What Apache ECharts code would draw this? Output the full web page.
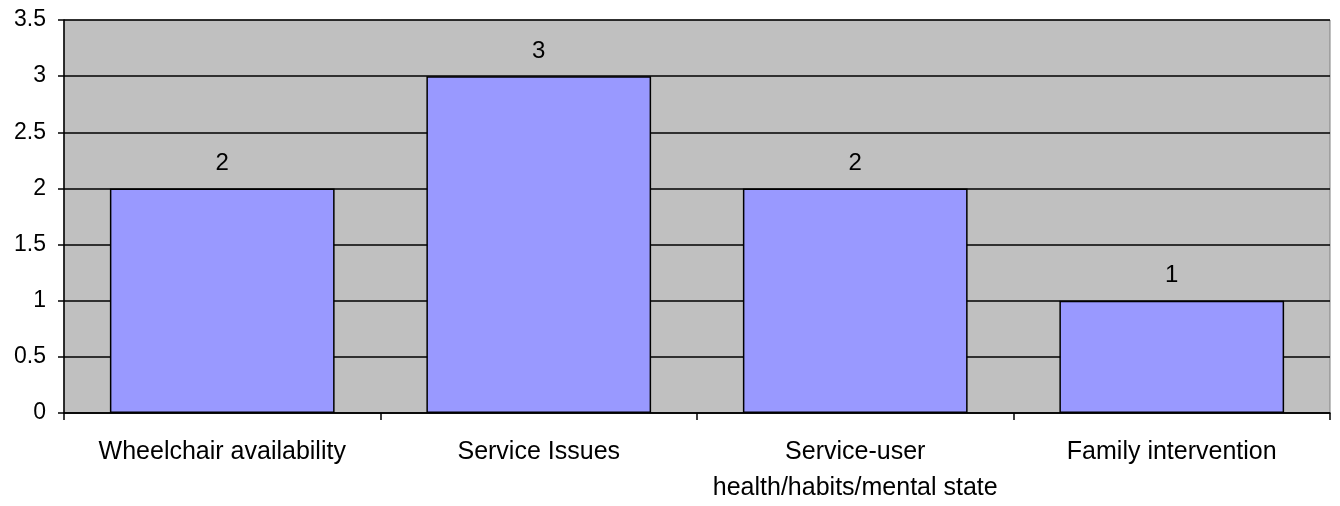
<!DOCTYPE html>
<html>
<head>
<meta charset="utf-8">
<script src="https://cdn.jsdelivr.net/npm/echarts@6/dist/echarts.min.js"></script>
<style>html,body{margin:0;padding:0;background:#fff;overflow:hidden}#c{width:1340px;height:506px}</style>
</head>
<body>
<div id="c"></div>
<script>
const categories = ["Wheelchair availability", "Service Issues", "Service-user\nhealth/habits/mental state", "Family intervention"];
const values = [2, 3, 2, 1];
const yTicks = { min: 0, max: 3.5, interval: 0.5 };

const chart = echarts.init(document.getElementById('c'));
chart.setOption({
  animation: false,
  textStyle: { fontFamily: 'Liberation Sans, Arial, sans-serif' },
  grid: {
    left: 64, right: 10, top: 20, bottom: 89,
    show: true, backgroundColor: '#C0C0C0', borderColor: '#808080', borderWidth: 1
  },
  xAxis: {
    type: 'category',
    data: categories,
    axisLine: { lineStyle: { color: '#000', width: 1.5 } },
    axisTick: { show: true, length: 7, lineStyle: { color: '#000', width: 1.5 } },
    axisLabel: { color: '#000', fontSize: 25, margin: 21, lineHeight: 36, interval: 0 },
    splitLine: { show: false }
  },
  yAxis: {
    type: 'value',
    min: yTicks.min, max: yTicks.max, interval: yTicks.interval,
    axisLine: { show: true, lineStyle: { color: '#000', width: 1.5 } },
    axisTick: { show: true, length: 6, lineStyle: { color: '#000', width: 1.5 } },
    axisLabel: { color: '#000', fontSize: 23, margin: 18 },
    splitLine: { show: true, lineStyle: { color: '#000', width: 1.5 } }
  },
  series: [{
    type: 'bar',
    data: values,
    barCategoryGap: '29%',
    itemStyle: { color: '#9999FF', borderColor: '#000', borderWidth: 1.5 },
    label: { show: true, position: 'top', distance: 13, color: '#000', fontSize: 24 }
  }]
});
</script>
</body>
</html>
